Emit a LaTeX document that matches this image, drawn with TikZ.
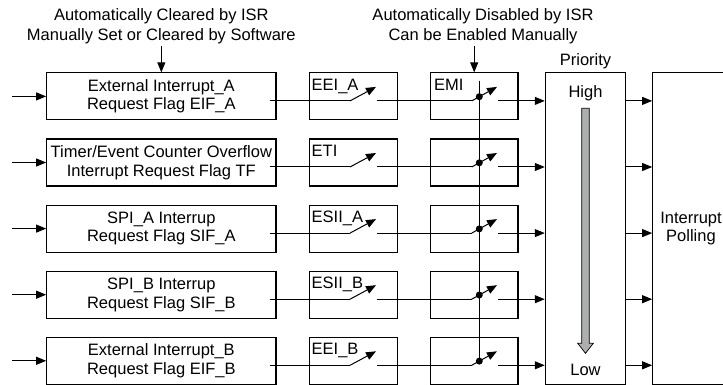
\documentclass[tikz,border=0pt]{standalone}
\usepackage{fontspec}
\setmainfont{Liberation Sans}
\usetikzlibrary{arrows.meta,calc,positioning}
\definecolor{prioritygray}{RGB}{172,174,176}

\begin{document}
\begin{tikzpicture}[x=1pt,y=-1pt,line join=miter,
 >={Triangle[length=10pt,width=8pt]},
 every node/.style={font=\fontsize{16.5}{18.5}\selectfont},
 flagbox/.style={draw,line width=1.1pt,minimum width=229.3pt,
   minimum height=47pt,inner sep=0pt,align=center},
 gatebox/.style={draw,line width=1.1pt,minimum width=87.5pt,
   minimum height=47pt,inner sep=0pt},
 gatelabel/.style={anchor=base west,inner sep=0pt},
 header/.style={align=center,inner sep=2pt,
   font=\fontsize{16.5}{20}\selectfont},
 wire/.style={line width=1pt}]
 \useasboundingbox (0,0) rectangle (723,385);
 % Priority and polling columns on the right.
 \node[draw,line width=1.1pt,minimum width=80.4pt,minimum height=311.6pt,
       inner sep=0pt] (prio) at (585.5,228.5) {};
 \node[draw,line width=1.1pt,minimum width=76.6pt,minimum height=311.6pt,
       inner sep=0pt,align=center] (poll) at (691,228.5)
  {Interrupt\\Polling};
 \node[above=2.6pt of prio,inner sep=0pt] (priolabel) {Priority};
 \node[anchor=base] (high) at ([yshift=-25.6pt]prio.north) {High};
 \node[anchor=base] (low) at ([yshift=9.3pt]prio.south) {Low};
 \draw[line width=.7pt,fill=prioritygray]
  (581.7,108.3) -- (589.3,108.3) -- (589.3,343.3) -- (593.3,343.3)
  -- (585.5,353.3) -- (577.7,343.3) -- (581.7,343.3) -- cycle;
 % One row for each interrupt source.
 \foreach \r/\txt/\lbl in {
   1/{External Interrupt\_A\\Request Flag EIF\_A}/EEI\_A,
   2/{Timer/Event Counter Overflow\\Interrupt Request Flag TF}/ETI,
   3/{SPI\_A Interrup\\Request Flag SIF\_A}/ESII\_A,
   4/{SPI\_B Interrup\\Request Flag SIF\_B}/ESII\_B,
   5/{External Interrupt\_B\\Request Flag EIF\_B}/EEI\_B} {
  \pgfmathsetmacro\yc{96.4+66.1*(\r-1)}
  \pgfmathsetmacro\yw{\yc+4.5}
  \node[flagbox] (f\r) at (161.35,\yc) {\txt};
  \node[gatebox] (e\r) at (353.3,\yc) {};
  \node[gatebox] (m\r) at (474.2,\yc) {};
  \node[gatelabel] (le\r) at ($(e\r.north west)+(2.5,18)$) {\lbl};
  \coordinate (in\r) at (12,\yc);
  \coordinate (p\r) at (350,\yw);
  \coordinate (t\r) at (376,\yw-14);
  \coordinate (q\r) at (377,\yw);
  \coordinate (pm\r) at (471.7,\yw);
  \coordinate (tm\r) at (497,\yw-14);
  \coordinate (qm\r) at (498.3,\yw);
  \coordinate (d\r) at ($(pm\r)!.3!(tm\r)$);
  \draw[wire,->] (in\r) -- (f\r.west);
  \draw[wire] ($(f\r.east|-p\r)+(-7,0)$) -- (p\r);
  \draw[wire,->] (p\r) -- (t\r);
  \draw[wire] (q\r) -- (pm\r);
  \draw[wire,->] (pm\r) -- (tm\r);
  \fill (d\r) circle (3.5pt);
  \draw[wire,->] (qm\r) -- (qm\r -| prio.west);
  \draw[wire,->] (qm\r -| prio.east) -- (qm\r -| poll.west);
 }
 \node[gatelabel] (lm1) at ($(m1.north west)+(4,18)$) {EMI};
 % Common enable line through the second switches.
 \coordinate (emtop) at ($(d1)+(0,-16)$);
 \draw[wire] (emtop) -- (d5);
 % Headers above the first and third columns.
 \node[header] (hdrflag) at (161.35,26.5)
  {Automatically Cleared by ISR\\Manually Set or Cleared by Software};
 \node[header] (hdrmask) at (483,26.5)
  {Automatically Disabled by ISR\\Can be Enabled Manually};
 \draw[wire,->] (hdrflag.south -| f1.north) -- (f1.north);
 \draw[wire,->] (hdrmask.south -| m1.north) -- (m1.north);
\end{tikzpicture}
\end{document}
